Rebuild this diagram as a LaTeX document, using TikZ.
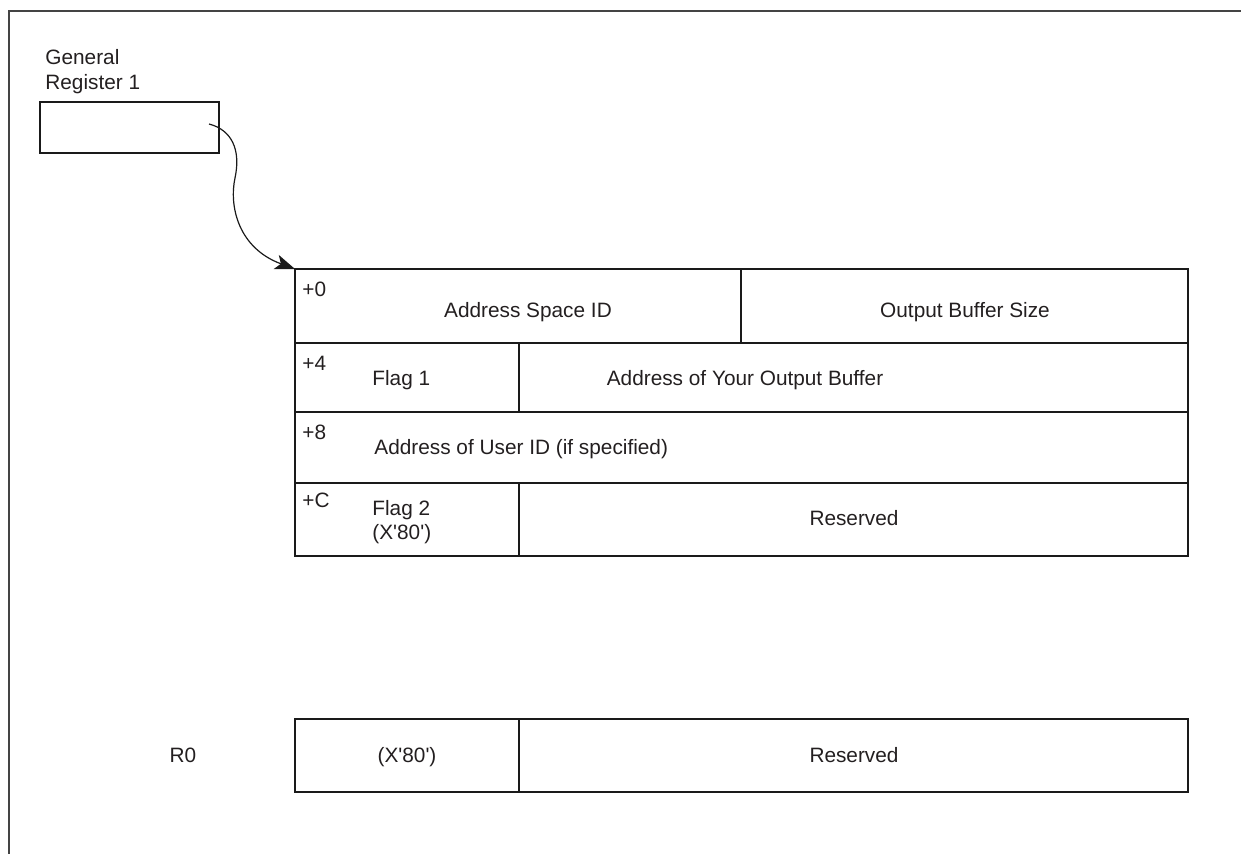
\documentclass[tikz,border=0pt]{standalone}
\usepackage{fontspec}
\setmainfont{Liberation Sans}
\usetikzlibrary{arrows.meta}
\definecolor{txt}{HTML}{231F20}
\definecolor{ln}{HTML}{1A1A1A}
\definecolor{frm}{HTML}{444444}
\newcommand{\myq}{\textquotesingle}
\begin{document}
\begin{tikzpicture}[x=0.5pt,y=-0.5pt,
  every node/.style={font=\fontsize{10.4}{12}\selectfont, text=txt},
  cell/.style={draw=ln, line width=0.65pt, anchor=north west, inner sep=0pt, outer sep=0pt},
  lbl/.style={anchor=base west, inner sep=0pt},
  ctr/.style={anchor=base, inner sep=0pt}]
\useasboundingbox (0,0) rectangle (1241,854);
% frame
\draw[frm, line width=0.6pt] (9,854) -- (9,11) -- (1241,11);

% register
\node[lbl] (gen) at (45,65) {General};
\node[lbl] (reg1) at (45,90) {Register 1};
\node[cell, minimum width=89.5pt, minimum height=25.5pt] (reg) at (40,102) {};
\coordinate (src) at (209,124);

% main table
\node[cell, minimum width=223pt, minimum height=37pt] (c0a) at (295,269) {};
\node[cell, minimum width=223.5pt, minimum height=37pt] (c0b) at (741,269) {};
\node[cell, minimum width=112pt, minimum height=34.5pt] (c1a) at (295,343) {};
\node[cell, minimum width=334.5pt, minimum height=34.5pt] (c1b) at (519,343) {};
\node[cell, minimum width=446.5pt, minimum height=35.5pt] (c2) at (295,412) {};
\node[cell, minimum width=112pt, minimum height=36.5pt] (c3a) at (295,483) {};
\node[cell, minimum width=334.5pt, minimum height=36.5pt] (c3b) at (519,483) {};

\node[lbl] (o0) at (302,297) {+0};
\node[ctr] (t0a) at (528,318) {Address Space ID};
\node[ctr] (t0b) at (965,318) {Output Buffer Size};
\node[lbl] (o4) at (302,371) {+4};
\node[lbl] (t1a) at (372,386) {Flag 1};
\node[ctr] (t1b) at (745,386) {Address of Your Output Buffer};
\node[lbl] (o8) at (302,440) {+8};
\node[lbl] (t2) at (374,455) {Address of User ID (if specified)};
\node[lbl] (oC) at (302,508) {+C};
\node[lbl] (t3a) at (372,516) {Flag 2};
\node[lbl] (t3c) at (372,540) {(X\myq80\myq)};
\node[ctr] (t3b) at (854,526) {Reserved};

% R0
\node[ctr] (r0) at (183,762) {R0};
\node[cell, minimum width=112pt, minimum height=36.5pt] (r0a) at (295,719) {};
\node[cell, minimum width=334.5pt, minimum height=36.5pt] (r0b) at (519,719) {};
\node[ctr] (r0at) at (407,762) {(X\myq80\myq)};
\node[ctr] (r0bt) at (854,762) {Reserved};

% arrow
\draw[ln, line width=0.6pt, -{Stealth[length=10pt,width=7.5pt,inset=2.5pt]}]
  (src) .. controls (232,130) and (241,150) .. (235,178)
        .. controls (229,206) and (238,248) .. (c0a.north west);
\end{tikzpicture}
\end{document}
